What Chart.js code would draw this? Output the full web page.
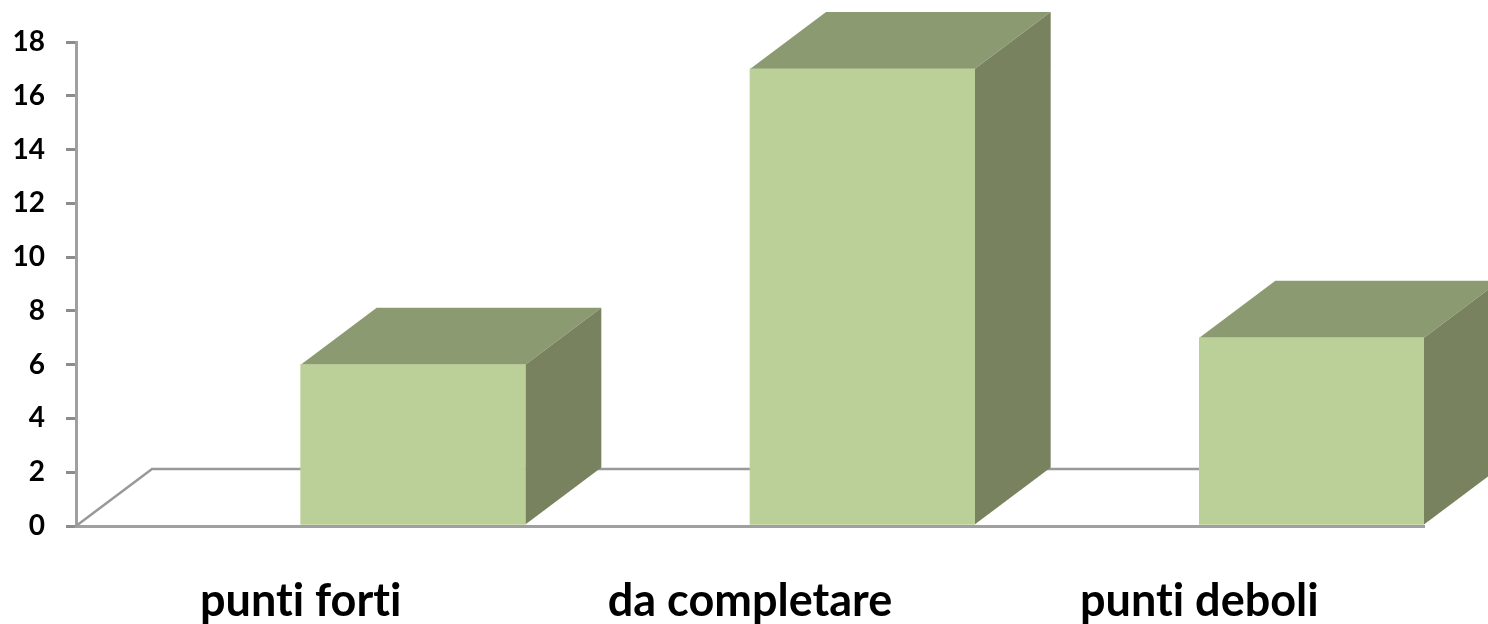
<!DOCTYPE html>
<html>
<head>
<meta charset="utf-8">
<title>Grafico punti</title>
<script src="https://cdn.jsdelivr.net/npm/chart.js@4"></script>
<style>
  html, body { margin: 0; padding: 0; background: #fff; overflow: hidden; }
  #wrap { position: relative; width: 1488px; height: 624px; }
</style>
</head>
<body>
<div id="wrap"><canvas id="grafico"></canvas></div>
<script>
"use strict";

var categorie = ['punti forti', 'da completare', 'punti deboli'];
var valori    = [6, 17, 7];
var vuoti     = [null, null, null];   /* colonna vuota: le barre partono dal centro categoria */
var tickY     = [0, 2, 4, 6, 8, 10, 12, 14, 16, 18];

var FRONTE = '#bbcf98', SOPRA = '#8c9a72', LATO = '#79825f';
var ASSE = '#a0a0a0', TACCA = '#8c8c8c';
var PROF_X = 76, PROF_Y = 57;   /* profondita' della vista 3D */

function poligono(ctx, punti, colore) {
  ctx.fillStyle = colore;
  ctx.beginPath();
  ctx.moveTo(punti[0][0], punti[0][1]);
  for (var i = 1; i < punti.length; i++) ctx.lineTo(punti[i][0], punti[i][1]);
  ctx.closePath();
  ctx.fill();
}

/* pavimento e facce laterali, ricavati dalle barre e dalle scale */
var vista3d = {
  id: 'vista3d',
  beforeDraw: function (chart) {
    chart.ctx.textRendering = 'optimizeSpeed';   /* niente legatura "ti" */
  },
  beforeDatasetsDraw: function (chart) {
    var ctx = chart.ctx;
    var a = chart.chartArea;
    ctx.save();
    ctx.strokeStyle = '#999999';
    ctx.lineWidth = 2.5;
    ctx.beginPath();
    ctx.moveTo(a.left, a.bottom);
    ctx.lineTo(a.left + PROF_X, a.bottom - PROF_Y);
    ctx.lineTo(chart.width, a.bottom - PROF_Y);
    ctx.stroke();

    chart.getDatasetMeta(1).data.forEach(function (b) {
      var sx = b.x - b.width / 2, dx = b.x + b.width / 2;
      poligono(ctx, [[sx, b.y], [sx + PROF_X, b.y - PROF_Y], [dx + PROF_X, b.y - PROF_Y], [dx, b.y]], SOPRA);
      poligono(ctx, [[dx, b.y], [dx + PROF_X, b.y - PROF_Y], [dx + PROF_X, b.base - PROF_Y], [dx, b.base]], LATO);
    });
    ctx.restore();
  }
};

new Chart(document.getElementById('grafico'), {
  type: 'bar',
  data: {
    labels: categorie,
    datasets: [
      { label: '', data: vuoti, backgroundColor: 'rgba(0,0,0,0)' },
      { label: 'punti', data: valori, backgroundColor: FRONTE }
    ]
  },
  options: {
    responsive: true,
    maintainAspectRatio: false,
    animation: false,
    layout: { padding: { left: 0, right: 64, top: 42, bottom: 0 } },
    categoryPercentage: 1,
    barPercentage: 1,
    plugins: { legend: { display: false }, tooltip: { enabled: false } },
    scales: {
      x: {
        grid: { display: false },
        border: { color: ASSE, width: 3 },
        ticks: {
          color: '#000',
          padding: 40,
          maxRotation: 0,
          font: { family: 'Lato', size: 45, weight: 'bold' }
        },
        afterFit: function (s) { s.height = 98; }
      },
      y: {
        min: 0,
        max: 18,
        afterBuildTicks: function (s) {
          s.ticks = tickY.map(function (v) { return { value: v }; });
        },
        grid: { drawOnChartArea: false, color: TACCA, lineWidth: 3, tickLength: 10 },
        border: { color: ASSE, width: 3 },
        ticks: {
          color: '#000',
          padding: 21,
          font: { family: 'Lato', size: 28, weight: 'bold' }
        },
        afterFit: function (s) { s.width = 76; }
      }
    }
  },
  plugins: [vista3d]
});
</script>
</body>
</html>
